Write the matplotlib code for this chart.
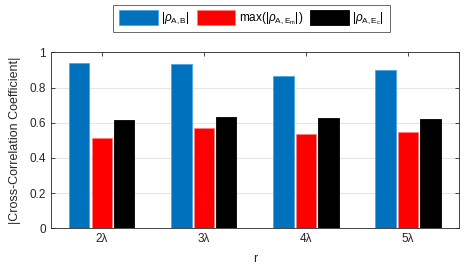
import numpy as np
import matplotlib
matplotlib.use("Agg")
import matplotlib.pyplot as plt

plt.rcParams['font.family'] = ['Liberation Sans', 'DejaVu Sans']
plt.rcParams['mathtext.fontset'] = 'custom'
plt.rcParams['mathtext.rm'] = 'Liberation Sans'
plt.rcParams['mathtext.it'] = 'Liberation Sans:italic'

# data
r_labels = ['2λ', '3λ', '4λ', '5λ']
rho_ab = [0.937, 0.932, 0.864, 0.898]
rho_em_max = [0.511, 0.572, 0.538, 0.545]
rho_ec = [0.614, 0.632, 0.629, 0.623]

series = [rho_ab, rho_em_max, rho_ec]
names = [r'$|\rho_{\mathrm{A,B}}|$',
         r'max($|\rho_{\mathrm{A,E_m}}|$)',
         r'$|\rho_{\mathrm{A,E_c}}|$']
colors = ['#0072BD', '#FF0000', '#000000']
edges = ['#4DA6E0', '#FF8080', '#000000']

fig = plt.figure(figsize=(4.71, 2.71), dpi=100)
ax = fig.add_axes([50.7/471, 1-228.3/271, (459-50.7)/471, (228.3-52.3)/271])

x = np.arange(1, len(r_labels)+1)
offs = [-0.22, 0, 0.22]
for s, nm, c, e, o in zip(series, names, colors, edges, offs):
    ax.bar(x+o, s, width=0.2, color=c, edgecolor=e, linewidth=0.6, label=nm, zorder=3)

ax.set_xlim(0.5, 4.5)
ax.set_ylim(0, 1)
ax.set_xticks(x)
ax.set_xticklabels(r_labels)
ax.set_yticks([0, 0.2, 0.4, 0.6, 0.8, 1])
ax.set_yticklabels(['0', '0.2', '0.4', '0.6', '0.8', '1'])
ax.yaxis.grid(True, color='#E6E6E6', linewidth=0.8, zorder=0)
ax.set_axisbelow(True)
ax.tick_params(direction='in', top=True, right=True, labelsize=8.5,
               colors='#262626', length=3, width=0.6)
for sp in ax.spines.values():
    sp.set_color('#262626')
    sp.set_linewidth(0.6)
ax.set_xlabel('r', fontsize=9, color='#262626', labelpad=6)
ax.set_ylabel('|Cross-Correlation Coefficient|', fontsize=9, color='#262626', labelpad=6)

leg = ax.legend(loc='center', bbox_to_anchor=(251.5/471, 1-18.5/271),
                bbox_transform=fig.transFigure, ncol=3, fontsize=8.5,
                frameon=True, fancybox=False, edgecolor='#262626',
                handlelength=3.3, handleheight=1.5, columnspacing=0.55,
                handletextpad=0.3, borderpad=0.45)
leg.get_frame().set_linewidth(0.6)

fig.savefig('out.png', dpi=100)
